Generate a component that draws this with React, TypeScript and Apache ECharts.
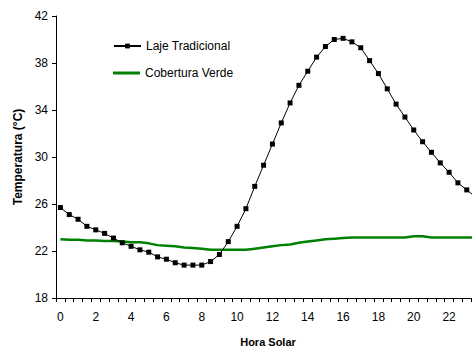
import React, { useEffect, useRef } from "react";
import * as echarts from "echarts";

// Half-hourly solar time, 0 .. 23.5
const hours: string[] = [
  "0", "0.5", "1", "1.5", "2", "2.5", "3", "3.5", "4", "4.5", "5", "5.5",
  "6", "6.5", "7", "7.5", "8", "8.5", "9", "9.5", "10", "10.5", "11", "11.5",
  "12", "12.5", "13", "13.5", "14", "14.5", "15", "15.5", "16", "16.5", "17", "17.5",
  "18", "18.5", "19", "19.5", "20", "20.5", "21", "21.5", "22", "22.5", "23", "23.5",
];

const lajeTradicional: number[] = [
  25.7, 25.1, 24.7, 24.1, 23.8, 23.5, 23.1, 22.7, 22.4, 22.1, 21.9, 21.5,
  21.3, 21.0, 20.8, 20.8, 20.8, 21.1, 21.7, 22.8, 24.1, 25.6, 27.5, 29.3,
  31.1, 32.9, 34.6, 36.1, 37.3, 38.5, 39.4, 40.0, 40.1, 39.8, 39.3, 38.2,
  37.1, 35.8, 34.5, 33.4, 32.3, 31.3, 30.4, 29.5, 28.7, 27.8, 27.2, 26.6,
];

const coberturaVerde: number[] = [
  23.0, 22.95, 22.95, 22.9, 22.9, 22.85, 22.85, 22.8, 22.75, 22.75, 22.65, 22.5,
  22.45, 22.4, 22.3, 22.25, 22.2, 22.1, 22.1, 22.1, 22.1, 22.1, 22.2, 22.3,
  22.4, 22.5, 22.55, 22.7, 22.8, 22.9, 23.0, 23.05, 23.1, 23.15, 23.15, 23.15,
  23.15, 23.15, 23.15, 23.15, 23.25, 23.25, 23.15, 23.15, 23.15, 23.15, 23.15, 23.15,
];

const FONT = "'Liberation Sans', Arial, sans-serif";
const legendText = { fontFamily: FONT, fontSize: 12, color: "#000" };

export default function App() {
  const ref = useRef<HTMLDivElement>(null);

  useEffect(() => {
    if (!ref.current) return;
    const chart = echarts.init(ref.current, undefined, { renderer: "svg" });
    chart.setOption({
      animation: false,
      backgroundColor: "#ffffff",
      textStyle: { fontFamily: FONT },
      grid: {
        left: 56,
        right: 0,
        top: 16,
        bottom: 51,
        containLabel: false,
        outerBoundsMode: "none",
      },
      legend: [
        {
          orient: "vertical",
          left: 113,
          top: 40,
          padding: 0,
          itemWidth: 27,
          itemHeight: 6,
          textStyle: legendText,
          data: ["Laje Tradicional"],
        },
        {
          orient: "vertical",
          left: 113,
          top: 67,
          padding: 0,
          itemWidth: 27,
          itemHeight: 3,
          textStyle: legendText,
          data: [{ name: "Cobertura Verde", icon: "rect" }],
        },
      ],
      xAxis: {
        type: "category",
        data: hours,
        boundaryGap: true,
        name: "Hora Solar",
        nameLocation: "middle",
        nameGap: 38,
        nameTextStyle: { fontFamily: FONT, fontSize: 11, fontWeight: "bold", color: "#000" },
        axisLine: { lineStyle: { color: "#000", width: 1 } },
        axisTick: { show: true, interval: 0, length: 4, lineStyle: { color: "#000" } },
        axisLabel: {
          interval: 3,
          margin: 13,
          fontFamily: FONT,
          fontSize: 12,
          color: "#000",
        },
        splitLine: { show: false },
      },
      yAxis: {
        type: "value",
        min: 18,
        max: 42,
        interval: 4,
        name: "Temperatura (°C)",
        nameLocation: "middle",
        nameGap: 30,
        nameRotate: 90,
        nameTextStyle: { fontFamily: FONT, fontSize: 12, fontWeight: "bold", color: "#000" },
        axisLine: { show: true, lineStyle: { color: "#000", width: 1 } },
        axisTick: { show: true, length: 4, lineStyle: { color: "#000" } },
        axisLabel: { margin: 8, fontFamily: FONT, fontSize: 12, color: "#000" },
        splitLine: { show: false },
      },
      series: [
        {
          name: "Laje Tradicional",
          type: "line",
          data: lajeTradicional,
          symbol: "rect",
          symbolSize: 5,
          showAllSymbol: true,
          lineStyle: { color: "#000", width: 1 },
          itemStyle: { color: "#000" },
          z: 3,
        },
        {
          name: "Cobertura Verde",
          type: "line",
          data: coberturaVerde,
          showSymbol: false,
          symbol: "none",
          lineStyle: { color: "#008000", width: 2.5 },
          itemStyle: { color: "#008000" },
          z: 2,
        },
      ],
    });
    return () => chart.dispose();
  }, []);

  // The chart canvas is a little wider than the visible frame, so the
  // last half-hour of the plot runs past the right edge and is cut off.
  return (
    <div style={{ position: "absolute", left: 0, top: 0, width: 472, height: 349, overflow: "hidden", background: "#fff" }}>
      <div ref={ref} style={{ width: 480, height: 349 }} />
    </div>
  );
}
